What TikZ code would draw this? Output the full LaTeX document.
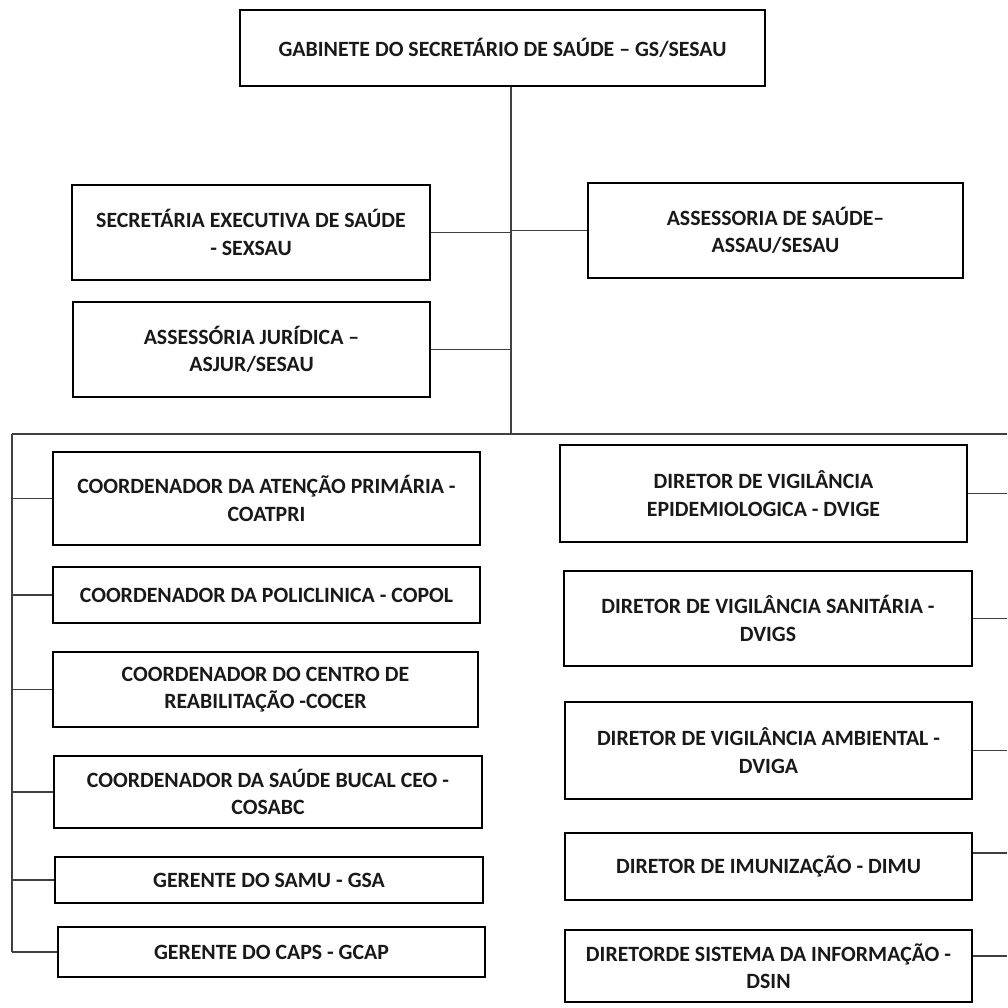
\documentclass[tikz,border=0pt]{standalone}
\usepackage{fontspec}
\setmainfont{Carlito}
\begin{document}
\begin{tikzpicture}[x=1pt,y=-1pt,
  box/.style={draw=black,line width=2.6pt,fill=white,inner sep=2pt,align=center,
    font=\bfseries\fontsize{21.8}{27.5}\selectfont,text=black!90},
  conn/.style={draw=black!75,line width=1.3pt}]
\useasboundingbox (0,0) rectangle (1007,1008);
\fill[white] (0,0) rectangle (1007,1008);
% top
\node[box,minimum width=525pt,minimum height=76pt] (gs) at (502.5,48) {GABINETE DO SECRETÁRIO DE SAÚDE – GS/SESAU};
\node[box,minimum width=358pt,minimum height=95pt] (sexsau) at (251,232.5) {SECRETÁRIA EXECUTIVA DE SAÚDE\\- SEXSAU};
\node[box,minimum width=357pt,minimum height=95pt] (asjur) at (251.5,349.5) {ASSESSÓRIA JURÍDICA –\\ASJUR/SESAU};
\node[box,minimum width=375pt,minimum height=95pt] (assau) at (775.5,230.5) {ASSESSORIA DE SAÚDE–\\ASSAU/SESAU};
% left column
\node[box,minimum width=427pt,minimum height=93pt] (coatpri) at (266.5,498.5) {COORDENADOR DA ATENÇÃO PRIMÁRIA -\\COATPRI};
\node[box,minimum width=427pt,minimum height=56pt] (copol) at (266.5,595) {COORDENADOR DA POLICLINICA - COPOL};
\node[box,minimum width=425pt,minimum height=75pt] (cocer) at (265.5,689.5) {COORDENADOR DO CENTRO DE\\REABILITAÇÃO -COCER};
\node[box,minimum width=428pt,minimum height=72pt] (cosabc) at (268,792) {COORDENADOR DA SAÚDE BUCAL CEO -\\COSABC};
\node[box,minimum width=428pt,minimum height=46pt] (gsa) at (269,880) {GERENTE DO SAMU - GSA};
\node[box,minimum width=427pt,minimum height=50pt] (gcap) at (271.5,952) {GERENTE DO CAPS - GCAP};
% right column
\node[box,minimum width=407pt,minimum height=97pt] (dvige) at (763.5,493.5) {DIRETOR DE VIGILÂNCIA\\EPIDEMIOLOGICA - DVIGE};
\node[box,minimum width=408pt,minimum height=95pt] (dvigs) at (768,618.5) {DIRETOR DE VIGILÂNCIA SANITÁRIA -\\DVIGS};
\node[box,minimum width=407pt,minimum height=97pt] (dviga) at (768.5,750.5) {DIRETOR DE VIGILÂNCIA AMBIENTAL -\\DVIGA};
\node[box,minimum width=407pt,minimum height=67pt] (dimu) at (768.5,866.5) {DIRETOR DE IMUNIZAÇÃO - DIMU};
\node[box,minimum width=407pt,minimum height=72pt] (dsin) at (768.5,966) {DIRETORDE SISTEMA DA INFORMAÇÃO -\\DSIN};
% bus coordinates
\coordinate (trunk) at (511,434);
\coordinate (busL) at (12,434);
\coordinate (busR) at (1007,434);
\coordinate (leftEnd) at (12,952);
\coordinate (rEdge) at (1007,0);
% connectors
\draw[conn] (gs.south -| trunk) -- (trunk);
\draw[conn] (busL) -- (busR);
\draw[conn] (busL) -- (leftEnd);
\draw[conn] (sexsau.east) -- (sexsau.east -| trunk);
\draw[conn] (asjur.east) -- (asjur.east -| trunk);
\draw[conn] (assau.west) -- (assau.west -| trunk);
\foreach \n in {coatpri,copol,cocer,cosabc,gsa,gcap}
  \draw[conn] (\n.west) -- (\n.west -| busL);
\foreach \n in {dvige,dvigs,dviga}
  \draw[conn] (\n.east) -- (\n.east -| rEdge);
\draw[conn] ([yshift=13.5pt]dimu.east) -- ([yshift=13.5pt]dimu.east -| rEdge);
\draw[conn] ([yshift=10pt]dsin.east) -- ([yshift=10pt]dsin.east -| rEdge);
\end{tikzpicture}
\end{document}
